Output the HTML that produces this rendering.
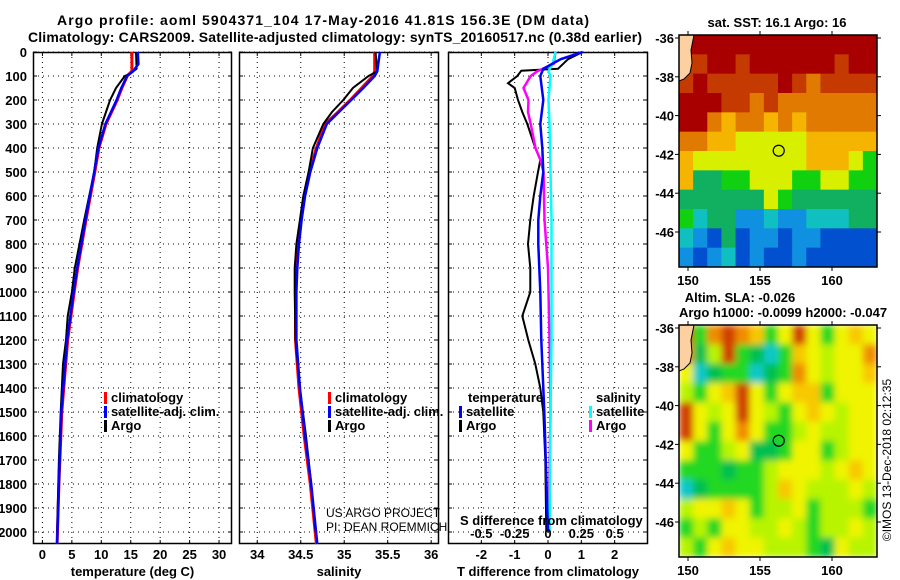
<!DOCTYPE html>
<html><head><meta charset="utf-8">
<style>
html,body{margin:0;padding:0;background:#fff;}
svg{display:block;font-family:"Liberation Sans",sans-serif;}
.b{font-weight:bold;font-size:13px;}
.t{font-weight:bold;font-size:14px;}
.n{font-weight:normal;font-size:12px;}
</style></head>
<body>
<svg id="fig" width="900" height="580" viewBox="0 0 900 580">
<filter id="blur" x="0" y="0" width="1" height="1"><feGaussianBlur stdDeviation="3.5"/></filter>
<clipPath id="c1"><rect x="679" y="35" width="198" height="232"/></clipPath>
<clipPath id="c2"><rect x="679" y="325" width="198" height="232"/></clipPath>
<g id="layer"></g>
</svg>
<script>
// ---- data ----
const depthsTC=[0,80,100,150,200,300,400,500,700,900,1000,1200,1500,1800,2050];
const tempClim=[15.2,15.2,14.4,13.5,12.7,10.8,9.6,8.9,7.4,6.0,5.4,4.3,3.3,2.8,2.5];
const depthsTS=[0,50,80,100,150,200,300,400,500,700,900,1000,1200,1500,1800,2050];
const tempSat=[16.2,16.3,15.4,14.4,13.4,12.6,10.7,9.5,8.8,7.3,5.9,5.3,4.2,3.2,2.8,2.5];
const depthsTA=[0,70,90,100,150,200,250,300,400,500,700,900,1000,1100,1200,1300,1500,1700,2000];
const tempArgo=[15.9,16.0,14.9,14.0,12.5,11.5,10.8,10.1,9.3,8.8,7.1,5.5,5.0,4.3,4.0,3.5,3.1,2.8,2.5];
const depthsS=[0,80,100,150,200,250,300,400,500,600,700,800,900,1000,1200,1400,1600,1800,2050];
const salClim=[35.35,35.35,35.33,35.2,35.07,34.93,34.78,34.68,34.6,34.54,34.5,34.47,34.45,34.44,34.44,34.48,34.54,34.61,34.68];
const salSat=[35.41,35.38,35.35,35.22,35.08,34.94,34.8,34.69,34.61,34.55,34.51,34.48,34.46,34.45,34.45,34.49,34.55,34.62,34.69];
const depthsSA=[0,80,100,150,200,250,300,400,500,600,700,800,900,1000,1200,1400,1600,1800,2000];
const salArgo=[35.36,35.38,35.28,35.10,34.99,34.86,34.76,34.64,34.59,34.53,34.49,34.45,34.43,34.43,34.44,34.49,34.56,34.62,34.67];
const depthsDA=[0,30,70,78,100,130,150,200,250,300,400,450,500,600,700,800,900,1000,1100,1200,1300,1400,1500,1700,2000];
const tDiffArgo=[1.04,0.6,0.3,-0.8,-0.92,-1.2,-1.0,-0.9,-0.77,-0.62,-0.38,-0.23,-0.3,-0.43,-0.53,-0.6,-0.53,-0.53,-0.77,-0.59,-0.38,-0.23,-0.14,-0.08,-0.05];
const depthsDS=[0,30,70,100,200,300,400,500,600,700,800,900,1000,1200,1500,2000];
const tDiffSat=[1.04,0.38,-0.14,-0.23,-0.14,-0.23,-0.17,-0.14,-0.23,-0.29,-0.29,-0.26,-0.23,-0.2,-0.11,0];
const depthsSDA=[0,50,80,100,150,200,250,300,400,450,500,700,900,1200,1500,2000];
const sDiffArgo=[0.056,0.041,-0.08,-0.13,-0.184,-0.146,-0.15,-0.13,-0.094,-0.056,-0.034,-0.026,0,0.011,0.019,0.004];
const depthsSDS=[0,50,80,100,200,300,500,700,1200,1500,2000];
const sDiffSat=[0.056,0.034,0.004,0.019,0.004,0.011,0.019,0.026,0.026,0.019,0.011];
const depthTicks=[0,100,200,300,400,500,600,700,800,900,1000,1100,1200,1300,1400,1500,1600,1700,1800,1900,2000];
const tempTicks=[0,5,10,15,20,25,30];
const salTicks=[34,34.5,35,35.5,36];
const tdTicks=[-2,-1,0,1,2];
const sdTicks=[-0.5,-0.25,0,0.25,0.5];
const sdTickLabels=["-0.5","-0.25","0","0.25","0.5"];
const latTicks=[-36,-38,-40,-42,-44,-46];
const lonTicks=[150,155,160];
const argoLon=156.3, argoLat=-41.81;
const sstGrid=[
"L0000000000000",
"L1001000000100",
"10111110121111",
"00011212222222",
"00232232322222",
"22334444433333",
"34444444433345",
"36655444554455",
"66666645666666",
"57668878877766",
"78969889889999",
"89879899899999"];
const slaGrid=[
"L5101253035323",
"L6405675234331",
"37655765134332",
"45320353225333",
"03430345323433",
"03531355434433",
"35543665335433",
"55565543334323",
"76555542344434",
"43323544354445",
"54533443454434",
"45323344456344"];
const sstColors=["#a80000","#c43a00","#e07a00","#f5b400","#d8f000","#10d010","#10b060","#10c0c0","#1090e0","#0050d0"];
const slaColors=["#d04000","#f08c00","#f8c800","#f0f400","#b8f400","#20d820","#00c050","#10c8c8","#10a8f0"];

// ---- scales ----
const Y0=52, PY=0.24, BOT=544;
const yS=d=>Y0+d*PY;
const P1={x0:33,x1:232,min:-1.6,max:32.2};
const P2={x0:239,x1:439,min:33.79,max:36.09};
const P3={x0:448,x1:648,min:-3,max:3};
const sc=(p,v)=>p.x0+(v-p.min)/(p.max-p.min)*(p.x1-p.x0);
const sdS=v=>sc(P3,v*4);
const lonS=l=>688+(l-150)*14.4;
const latS=(l,top)=>top+3+(-36-l)*19.4;

const NS="http://www.w3.org/2000/svg";
const layer=document.getElementById('layer');
function mk(tag,attrs,parent){const e=document.createElementNS(NS,tag);for(const k in attrs)e.setAttribute(k,attrs[k]);(parent||layer).appendChild(e);return e;}
function txt(x,y,s,cls,anchor){const e=mk('text',{x:x,y:y,class:cls,'text-anchor':anchor||'start'});e.textContent=s;return e;}

let e;
e=txt(323,25,"Argo profile: aoml 5904371_104 17-May-2016 41.81S 156.3E (DM data)","t","middle");
e.setAttribute('textLength','532');


e=txt(335,42,"Climatology: CARS2009. Satellite-adjusted climatology: synTS_20160517.nc (0.38d earlier)","t","middle");
e.setAttribute('textLength','614');



function panel(P,name,xticks,xlabels,xtitle){
  const g=mk('g',{});
  
  
  depthTicks.forEach(d=>{
    mk('line',{x1:P.x0,x2:P.x1,y1:yS(d),y2:yS(d),stroke:'#000','stroke-width':1,'stroke-dasharray':'1,4'},g);
    mk('line',{x1:P.x0,x2:P.x0+4,y1:yS(d),y2:yS(d),stroke:'#000'},g);
    mk('line',{x1:P.x1-4,x2:P.x1,y1:yS(d),y2:yS(d),stroke:'#000'},g);
  });
  xticks.forEach((v,i)=>{
    const x=sc(P,v);
    mk('line',{x1:x,x2:x,y1:Y0,y2:BOT,stroke:'#000','stroke-dasharray':'1,4'},g);
    mk('line',{x1:x,x2:x,y1:BOT-4,y2:BOT,stroke:'#000'},g);
    mk('line',{x1:x,x2:x,y1:Y0,y2:Y0+4,stroke:'#000'},g);
    const t=txt(x,559,xlabels[i],'b','middle');g.appendChild(t);
  });
  mk('rect',{x:P.x0+0.5,y:Y0+0.5,width:P.x1-P.x0-1,height:BOT-Y0-1,fill:'none',stroke:'#000','stroke-width':1.5},g);
  const tt=txt((P.x0+P.x1)/2,576,xtitle,'b','middle');
  
  
  return g;
}
panel(P1,'temperature-panel',tempTicks,tempTicks.map(String),'temperature (deg C)');
panel(P2,'salinity-panel',salTicks,salTicks.map(String),'salinity');
panel(P3,'difference-panel',tdTicks,tdTicks.map(String),'T difference from climatology');
depthTicks.forEach(d=>{const t=txt(27,yS(d)+5,String(d),'b','end');});

function line(xs,ds,fx,color,w,name){
  const pts=xs.map((v,i)=>fx(v).toFixed(1)+','+yS(ds[i]).toFixed(1)).join(' ');
  const p=mk('polyline',{points:pts,fill:'none',stroke:color,'stroke-width':w,'stroke-linejoin':'miter'});
  
  
}
line(tempClim,depthsTC,v=>sc(P1,v),'#ff0000',3,'temp-climatology-line');
line(tempArgo,depthsTA,v=>sc(P1,v),'#000',2,'temp-argo-line');
line(tempSat,depthsTS,v=>sc(P1,v),'#0000ff',2.5,'temp-satellite-line');
line(salClim,depthsS,v=>sc(P2,v),'#ff0000',3,'sal-climatology-line');
line(salArgo,depthsSA,v=>sc(P2,v),'#000',2,'sal-argo-line');
line(salSat,depthsS,v=>sc(P2,v),'#0000ff',2.5,'sal-satellite-line');
line(tDiffArgo,depthsDA,v=>sc(P3,v),'#000',2,'tdiff-argo-line');
line(sDiffArgo,depthsSDA,sdS,'#ff00ff',2.5,'sdiff-argo-line');
line(sDiffSat,depthsSDS,sdS,'#00ffff',2.5,'sdiff-satellite-line');
line(tDiffSat,depthsDS,v=>sc(P3,v),'#0000ff',2.5,'tdiff-satellite-line');

sdTicks.forEach((v,i)=>{const t=txt(sdS(v),538,sdTickLabels[i],'b','middle');});
e=txt(460,525,"S difference from climatology","b");



function legend(x,y,items){
  items.forEach((it,i)=>{
    const g=mk('g',{});
    
    
    if(it[0])mk('rect',{x:x,y:y+i*14-10,width:3,height:12,fill:it[0]},g);
    const t=txt(x+(it[0]?7:0),y+i*14,it[1],'b');g.appendChild(t);
  });
}
legend(104,402,[['#ff0000','climatology'],['#0000ff','satellite-adj. clim.'],['#000','Argo']]);
legend(328,402,[['#ff0000','climatology'],['#0000ff','satellite-adj. clim.'],['#000','Argo']]);
legend(468,402,[[null,'temperature']]);
legend(459,416,[['#0000ff','satellite'],['#000','Argo']]);
legend(596,402,[[null,'salinity']]);
legend(589,416,[['#00ffff','satellite'],['#ff00ff','Argo']]);
e=txt(326,517,"US ARGO PROJECT","n",'start');


e=txt(326,531,"PI: DEAN ROEMMICH","n",'start');



function map(top,grid,colors,clip,name,blur){
  const g=mk('g',{'clip-path':'url(#'+clip+')'});
  
  
  const inner=mk('g',blur?{filter:'url(#blur)'}:{},g);
  const cw=198/14,ch=232/12;
  mk('rect',{x:679,y:top,width:198,height:232,fill:colors[4]},inner);
  grid.forEach((row,r)=>{for(let c=0;c<14;c++){const k=row[c];const col=k==='L'?colors[r===0?0:1]:colors[+k];
    const cell=mk('rect',{x:679+c*cw,y:top+r*ch,width:cw+0.6,height:ch+0.6,fill:col},inner);
    
    }});
  mk('path',{d:`M679 ${top} L694 ${top} L691 ${top+15} L692 ${top+28} L690 ${top+38} L684 ${top+44} L679 ${top+46} Z`,fill:'#fcd0a0',stroke:'#000','stroke-width':1},g);
  mk('circle',{cx:lonS(argoLon),cy:latS(argoLat,top),r:5.5,fill:'none',stroke:'#000','stroke-width':1.2},g);
  mk('rect',{x:679,y:top,width:198,height:232,fill:'none',stroke:'#000','stroke-width':1.5},layer);
  latTicks.forEach(l=>{const y=latS(l,top);mk('line',{x1:877,x2:881,y1:y,y2:y,stroke:'#000'});mk('line',{x1:675,x2:679,y1:y,y2:y,stroke:'#000'});
    const t=txt(674,y+5,String(l),'b','end');});
  lonTicks.forEach(l=>{const x=lonS(l);mk('line',{x1:x,x2:x,y1:top-4,y2:top,stroke:'#000'});mk('line',{x1:x,x2:x,y1:top+232,y2:top+236,stroke:'#000'});
    const t=txt(x,top+250,String(l),'b','middle');});
}
map(35,sstGrid,sstColors,'c1','sst-map',false);
map(325,slaGrid,slaColors,'c2','sla-map',true);
e=txt(777,27,"sat. SST: 16.1 Argo: 16","b","middle");


e=txt(740,302,"Altim. SLA: -0.026","b","middle");


e=txt(783,317,"Argo h1000: -0.0099 h2000: -0.047","b","middle");


e=txt(0,0,"©IMOS 13-Dec-2018 02:12:35","n","middle");
e.setAttribute('font-size','13');
e.setAttribute('transform','translate(891,460) rotate(-90)');


</script>
</body></html>
